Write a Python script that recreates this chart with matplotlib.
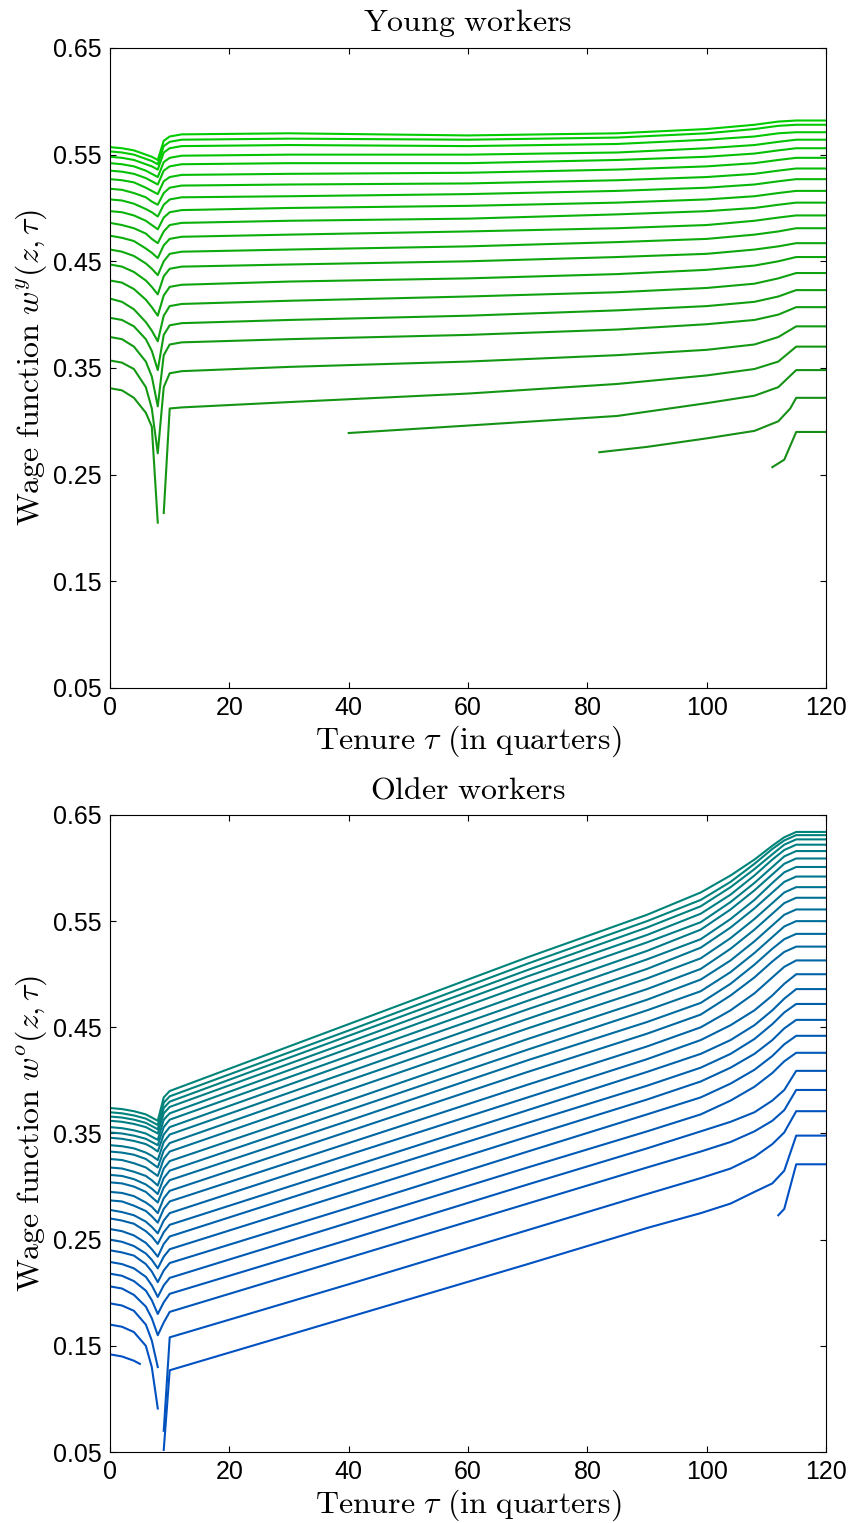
import numpy as np
import matplotlib
matplotlib.use("Agg")
import matplotlib.pyplot as plt
from matplotlib.colors import to_rgb

## Axis ticks
x_ticks = [0, 20, 40, 60, 80, 100, 120]
y_ticks = [0.05, 0.15, 0.25, 0.35, 0.45, 0.55, 0.65]

## ---------------- Young workers (lowest z first) ----------------
young_tau = [0, 2, 4, 6, 7, 8, 9, 10, 12, 30, 60, 85, 100, 108, 112, 115, 120]
young_t0 = [.331, .357, .379, .397, .415, .432, .447, .461, .474, .486, .497, .508, .518, .527, .535, .542, .548, .553, .557]
young_t2 = [.329, .355, .377, .395, .412, .430, .445, .459, .472, .484, .496, .507, .517, .526, .534, .541, .547, .552, .556]
young_t4 = [.322, .349, .370, .389, .405, .424, .440, .455, .469, .481, .493, .504, .514, .524, .532, .539, .545, .550, .554]
young_t6 = [.308, .332, .356, .377, .393, .414, .432, .448, .462, .476, .488, .499, .510, .519, .528, .535, .541, .546, .550]
young_t7 = [.295, .312, .342, .366, .385, .407, .426, .443, .458, .471, .484, .496, .506, .516, .525, .532, .539, .544, .548]
young_t8 = [.205, .270, .314, .348, .375, .399, .419, .437, .453, .467, .480, .492, .503, .513, .522, .529, .536, .541, .545]
young_t9 = [.214, .332, .362, .381, .399, .418, .436, .450, .465, .478, .491, .503, .514, .525, .535, .543, .552, .558, .563]
young_t10 = [.312, .345, .372, .390, .408, .426, .443, .457, .471, .484, .496, .508, .519, .529, .539, .547, .556, .562, .567]
young_t12 = [.313, .347, .374, .392, .410, .428, .445, .459, .473, .486, .498, .510, .521, .531, .541, .549, .558, .564, .569]
young_t30 = [.318, .351, .377, .395, .413, .431, .447, .461, .475, .488, .500, .511, .522, .532, .542, .550, .559, .565, .570]
young_t60 = [.326, .356, .381, .399, .417, .434, .450, .464, .478, .490, .502, .513, .523, .533, .542, .550, .558, .564, .568]
young_t85 = [.335, .362, .386, .404, .421, .438, .454, .468, .481, .494, .505, .516, .526, .536, .545, .552, .560, .566, .570]
young_t100 = [.343, .367, .391, .408, .425, .442, .457, .471, .484, .497, .508, .519, .529, .539, .548, .556, .564, .570, .574]
young_t108 = [.349, .372, .395, .412, .429, .446, .461, .475, .488, .500, .511, .522, .532, .542, .551, .559, .567, .574, .578]
young_t112 = [.356, .379, .400, .417, .434, .450, .464, .478, .491, .503, .514, .525, .535, .545, .554, .562, .570, .577, .581]
young_end = [.370, .389, .407, .423, .439, .454, .467, .481, .493, .505, .516, .527, .537, .547, .556, .564, .571, .578, .582]
young_broken = [0]   # lines with a gap between tau 8 and 9

## lines that only exist late in the tenure range
young_late_tau = [[111, 113, 115, 120],
                  [82, 90, 100, 108, 112, 114, 115, 120],
                  [40, 60, 85, 100, 108, 112, 115, 120]]
young_late_w = [[.257, .264, .290, .290],
                [.271, .276, .284, .291, .300, .312, .322, .322],
                [.289, .296, .305, .317, .324, .332, .348, .348]]

## ---------------- Older workers (lowest z first) ----------------
old_tau = [0, 2, 4, 6, 7, 8, 9, 10, 40, 70, 90, 99, 104, 108, 111, 113, 115, 120]
old_t0 = [.170, .190, .206, .218, .229, .240, .250, .260, .270, .278, .287, .295, .304, .311, .318, .326, .333, .339, .346, .351, .356, .362, .366, .370, .374]
old_t2 = [.168, .188, .204, .216, .227, .238, .248, .258, .268, .276, .286, .294, .303, .310, .317, .325, .332, .338, .345, .350, .355, .361, .365, .369, .373]
old_t4 = [.163, .183, .198, .211, .223, .235, .244, .254, .265, .273, .282, .291, .300, .307, .314, .322, .330, .336, .343, .348, .353, .359, .363, .367, .371]
old_t6 = [.150, .170, .187, .202, .215, .227, .237, .247, .258, .267, .277, .285, .295, .302, .310, .318, .326, .332, .340, .345, .350, .356, .360, .364, .368]
old_t7 = [.130, .155, .176, .193, .207, .220, .231, .241, .253, .262, .272, .281, .290, .298, .306, .314, .322, .329, .337, .342, .347, .353, .357, .361, .365]
old_t8 = [.091, .130, .160, .180, .196, .210, .223, .234, .246, .256, .266, .275, .285, .293, .301, .310, .318, .325, .333, .339, .344, .350, .354, .358, .362]
old_t9 = [.052, .070, .172, .191, .207, .221, .234, .246, .257, .268, .279, .289, .299, .308, .317, .326, .334, .342, .349, .356, .363, .369, .374, .379, .384]
old_t10 = [.127, .158, .182, .199, .214, .228, .241, .253, .264, .275, .286, .296, .306, .315, .324, .333, .341, .349, .356, .363, .369, .375, .380, .385, .390]
old_t40 = [.177, .208, .233, .250, .266, .280, .294, .307, .318, .330, .341, .352, .362, .372, .381, .391, .400, .408, .416, .423, .430, .436, .442, .447, .453]
old_t70 = [.227, .259, .284, .302, .318, .333, .347, .360, .372, .384, .396, .408, .419, .429, .439, .449, .458, .467, .475, .483, .491, .498, .504, .510, .516]
old_t90 = [.261, .293, .318, .336, .352, .368, .382, .395, .408, .420, .432, .444, .455, .466, .476, .486, .496, .505, .514, .522, .530, .537, .544, .550, .556]
old_t99 = [.275, .308, .333, .352, .368, .384, .399, .412, .425, .438, .450, .462, .473, .484, .495, .505, .515, .525, .533, .542, .549, .557, .564, .570, .577]
old_t104 = [.284, .317, .342, .361, .381, .397, .412, .425, .438, .452, .466, .480, .491, .502, .513, .524, .534, .544, .552, .561, .568, .575, .582, .587, .593]
old_t108 = [.295, .328, .352, .370, .394, .410, .425, .439, .452, .466, .482, .497, .509, .520, .531, .542, .552, .562, .570, .579, .586, .593, .599, .604, .608]
old_t111 = [.303, .340, .362, .381, .407, .423, .438, .453, .466, .480, .497, .512, .524, .535, .546, .557, .567, .577, .586, .594, .601, .608, .613, .618, .621]
old_t113 = [.315, .351, .372, .391, .418, .434, .449, .464, .477, .491, .507, .521, .533, .545, .556, .567, .577, .587, .596, .604, .611, .617, .622, .626, .629]
old_end = [.348, .371, .391, .409, .426, .442, .457, .472, .486, .500, .513, .526, .538, .550, .561, .572, .582, .592, .601, .609, .616, .622, .627, .631, .634]
old_broken = [0, 1]

## lowest z for older workers: short piece at the start and at the end
old_low_tau = [[0, 2, 4, 5], [112, 113, 115, 120]]
old_low_w = [[.142, .140, .136, .133], [.273, .279, .321, .321]]

## colours (low z -> high z)
young_colors = ("#178c17", "#00cc00")
old_colors = ("#004fc4", "#00847a")


def blend(c_lo, c_hi, n):
    a, b = np.array(to_rgb(c_lo)), np.array(to_rgb(c_hi))
    return [tuple(a + (b - a) * k / max(n - 1, 1)) for k in range(n)]


def draw_lines(ax, tau, cols, broken, cols_rgb):
    W = np.vstack(cols)       # rows = knots, columns = lines
    tau = np.array(tau)
    left = tau <= 8
    for j in range(W.shape[1]):
        c = cols_rgb[j]
        if j in broken:
            ax.plot(tau[left], W[left, j], color=c, lw=1.5)
            ax.plot(tau[~left], W[~left, j], color=c, lw=1.5)
        else:
            ax.plot(tau, W[:, j], color=c, lw=1.5)


def style_axes(ax, title, ylabel):
    ax.set_xlim(0, 120)
    ax.set_ylim(0.05, 0.65)
    ax.set_xticks(x_ticks)
    ax.set_yticks(y_ticks)
    ax.set_yticklabels(["%.2f" % v for v in y_ticks])
    ax.tick_params(direction="in", top=True, right=True, length=4.5, width=0.8,
                   labelsize=18, pad=6)
    for lab in ax.get_xticklabels() + ax.get_yticklabels():
        lab.set_fontfamily("Liberation Sans")
    for s in ax.spines.values():
        s.set_linewidth(0.8)
    ax.set_title(r"$\mathrm{%s}$" % title.replace(" ", r"\ "), fontsize=23, pad=12)
    ax.set_xlabel(r"$\mathrm{Tenure}\ \tau\ \mathrm{(in\ quarters)}$", fontsize=23, labelpad=2)
    ax.set_ylabel(ylabel, fontsize=23, labelpad=3)


plt.rcParams["mathtext.fontset"] = "cm"
fig = plt.figure(figsize=(8.53, 15.23), dpi=100)
ax1 = fig.add_axes([0.129, 0.5483, 0.8394, 0.4202])
ax2 = fig.add_axes([0.129, 0.0466, 0.8394, 0.4183])

## Young workers
young_cols = [young_t0, young_t2, young_t4, young_t6, young_t7, young_t8, young_t9,
              young_t10, young_t12, young_t30, young_t60, young_t85, young_t100,
              young_t108, young_t112, young_end, young_end]
n_young = len(young_late_w) + len(young_t0)
yc = blend(young_colors[0], young_colors[1], n_young)
for k in range(len(young_late_w)):
    ax1.plot(young_late_tau[k], young_late_w[k], color=yc[k], lw=1.5)
draw_lines(ax1, young_tau, young_cols, young_broken, yc[len(young_late_w):])
style_axes(ax1, "Young workers", r"$\mathrm{Wage\ function}\ w^y(z,\tau)$")

## Older workers
old_cols = [old_t0, old_t2, old_t4, old_t6, old_t7, old_t8, old_t9, old_t10,
            old_t40, old_t70, old_t90, old_t99, old_t104, old_t108, old_t111,
            old_t113, old_end, old_end]
oc = blend(old_colors[0], old_colors[1], len(old_t0) + 1)
for k in range(len(old_low_w)):
    ax2.plot(old_low_tau[k], old_low_w[k], color=oc[0], lw=1.5)
draw_lines(ax2, old_tau, old_cols, old_broken, oc[1:])
style_axes(ax2, "Older workers", r"$\mathrm{Wage\ function}\ w^o(z,\tau)$")

fig.savefig("out.png", dpi=100)
